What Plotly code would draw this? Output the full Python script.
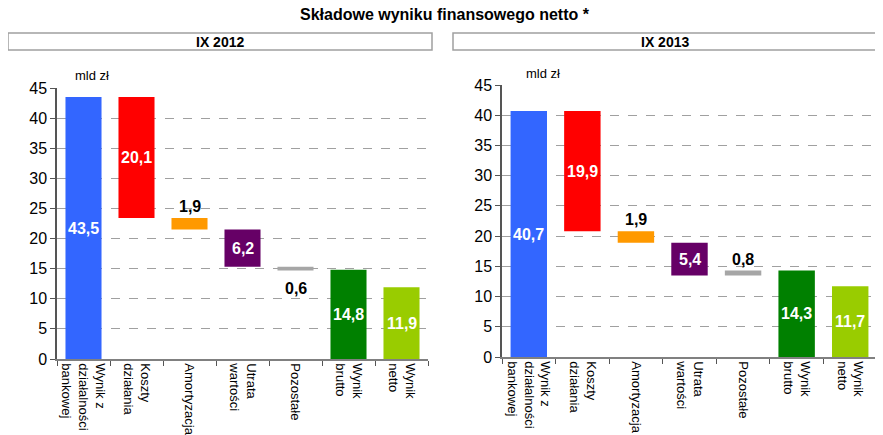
import plotly.graph_objects as go

# dane (mld zł)
kategorie = ["Wynik z<br>działalności<br>bankowej", "Koszty<br>działania", "Amortyzacja",
             "Utrata<br>wartości", "Pozostałe", "Wynik<br>brutto", "Wynik<br>netto"]
rodzaj = ["total", "rel", "rel", "rel", "rel", "total", "total"]
wartosci_2012 = [43.5, -20.1, -1.9, -6.2, -0.6, 14.8, 11.9]
wartosci_2013 = [40.7, -19.9, -1.9, -5.4, 0.8, 14.3, 11.7]
etykiety_2012 = ["43,5", "20,1", "1,9", "6,2", "0,6", "14,8", "11,9"]
etykiety_2013 = ["40,7", "19,9", "1,9", "5,4", "0,8", "14,3", "11,7"]
pozycje_2012 = ["in", "in", "above", "in", "below", "in", "in"]
pozycje_2013 = ["in", "in", "above", "in", "above", "in", "in"]
kolory = ["#3366FF", "#FF0000", "#FF9900", "#660066", "#A6A6A6", "#008000", "#99CC00"]

FONT = "Liberation Sans, Arial, sans-serif"
W, H = 883, 435
OFF = 8  # margines body w przeglądarce


def px(x):
    return (x - OFF) / W


def py(y):
    return 1 - (y - OFF) / H


fig = go.Figure()
annotations = []
shapes = []


def waterfall(wartosci):
    """Zwraca podstawy i wysokości słupków"""
    bases, heights = [], []
    running = 0.0
    for v, r in zip(wartosci, rodzaj):
        if r == "total":
            bases.append(0)
            heights.append(v)
            running = v
        else:
            bases.append(running + v if v < 0 else running)
            heights.append(abs(v))
            running += v
    return bases, heights


def panel(idx, wartosci, etykiety, pozycje, tytul, xdom, ydom, box, jednostka):
    xa = "x" if idx == 1 else "x2"
    ya = "y" if idx == 1 else "y2"
    bases, heights = waterfall(wartosci)
    fig.add_trace(go.Bar(
        x=kategorie, y=heights, base=bases, marker_color=kolory, width=0.68,
        marker_line_width=0, xaxis=xa, yaxis=ya, showlegend=False, hoverinfo="skip",
    ))
    for k, b, h, t, p in zip(kategorie, bases, heights, etykiety, pozycje):
        a = dict(x=k, text="<b>%s</b>" % t, xref=xa, yref=ya, showarrow=False, xanchor="center",
                 font=dict(color="black", size=16, family=FONT))
        if p == "in":
            a.update(y=b + h / 2, yanchor="middle")
            a["font"]["color"] = "white"
        elif p == "above":
            a.update(y=b + h, yanchor="bottom", yshift=1)
        else:
            a.update(y=b, yanchor="top", yshift=-8)
        annotations.append(a)
    # nagłówek panelu
    shapes.append(dict(type="rect", xref="paper", yref="paper", x0=box[0], x1=box[1], y0=box[2], y1=box[3],
                       line=dict(color="#A0A0A0", width=1.5), fillcolor="white", layer="below"))
    annotations.append(dict(x=(box[0] + box[1]) / 2, y=(box[2] + box[3]) / 2, xref="paper", yref="paper",
                            xanchor="center", yanchor="middle",
                            text="<b>%s</b>" % tytul, showarrow=False, font=dict(size=14, family=FONT, color="black")))
    annotations.append(dict(x=jednostka[0], y=jednostka[1], xref="paper", yref="paper",
                            xanchor="center", yanchor="middle",
                            text="mld zł", showarrow=False, font=dict(size=13, family=FONT, color="black")))
    axis_x = dict(domain=xdom, anchor=ya, type="category", tickson="boundaries", ticks="outside", ticklen=5,
                  tickcolor="#555", showline=True, linecolor="#808080", linewidth=1.5, tickangle=90,
                  tickfont=dict(size=13, family=FONT, color="black"), showgrid=False, automargin=False)
    axis_y = dict(domain=ydom, anchor=xa, range=[0, 45], dtick=5, ticks="outside", ticklen=5, tickcolor="#555",
                  showline=True, linecolor="#555", linewidth=1.5, gridcolor="#A0A0A0", griddash="dash",
                  gridwidth=1, tickfont=dict(size=16, family=FONT, color="black"), zeroline=False,
                  automargin=False)
    return axis_x, axis_y


x1, y1 = panel(1, wartosci_2012, etykiety_2012, pozycje_2012, "IX 2012",
               [px(57), px(428)], [py(359), py(88)], [px(8), px(432), py(50), py(33)], [px(92), py(76)])
x2, y2 = panel(2, wartosci_2013, etykiety_2013, pozycje_2013, "IX 2013",
               [px(502), px(877)], [py(357), py(85)], [px(453), px(877), py(50), py(33)], [px(543), py(74)])

annotations.append(dict(x=px(445), y=py(15), xref="paper", yref="paper", xanchor="center", yanchor="middle",
                        text="<b>Składowe wyniku finansowego netto *</b>", showarrow=False,
                        font=dict(size=16, family=FONT, color="black")))

fig.update_layout(
    width=W, height=H, margin=dict(l=0, r=0, t=0, b=0, autoexpand=False),
    paper_bgcolor="white", plot_bgcolor="white",
    xaxis=x1, yaxis=y1, xaxis2=x2, yaxis2=y2,
    annotations=annotations, shapes=shapes,
)

fig.write_html("out.html")
